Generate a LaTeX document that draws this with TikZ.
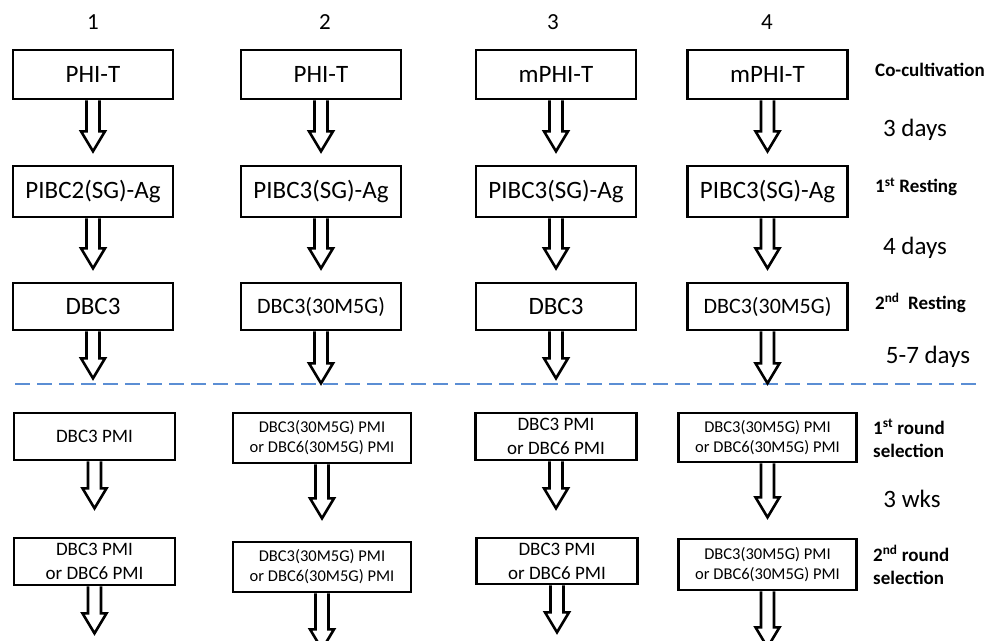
\documentclass[tikz,border=0pt]{standalone}
\usepackage{fontspec}
\setmainfont{Carlito}
\usetikzlibrary{calc}

\definecolor{dashblue}{RGB}{91,142,212}

% hollow down arrow below a box
\newcommand{\flowarrow}[2]{%
  \draw[arrowline] ($(#1.south)+(-6.5,0)$) -- ++(0,#2) -- ++(-5.5,0) -- ++(12,20) -- ++(12,-20) -- ++(-5.5,0) -- ++(0,-#2);}

\tikzset{
  box/.style={draw, line width=2.6pt, minimum width=160pt, minimum height=49pt, align=center, inner sep=0pt},
  widebox/.style={box, minimum width=178pt},
  arrowline/.style={draw, line width=2.6pt, line join=miter, fill=white},
  txtA/.style={font=\fontsize{25}{30}\selectfont},
  txtB/.style={font=\fontsize{22}{26}\selectfont},
  txtC/.style={font=\fontsize{19}{24}\selectfont},
  txtD/.style={font=\fontsize{16.5}{20}\selectfont},
  colnum/.style={font=\fontsize{23}{27}\selectfont},
  stage/.style={font=\bfseries\fontsize{19}{23}\selectfont, anchor=west, align=left, inner sep=0pt},
  period/.style={font=\fontsize{25}{30}\selectfont, inner sep=0pt}
}

\begin{document}
\begin{tikzpicture}[x=1pt, y=-1pt]
            \useasboundingbox (0,0) rectangle (987,640);

            %column numbers
            \node[colnum] (n1) at (93,22) {1};
            \node[colnum] (n2) at (325,22) {2};
            \node[colnum] (n3) at (553,22) {3};
            \node[colnum] (n4) at (767,22) {4};

            %co-cultivation
            \node[box,txtA] (a1) at (93,74.5) {PHI-T};
            \node[box,txtA] (a2) at (321,74.5) {PHI-T};
            \node[box,txtA] (a3) at (556,74.5) {mPHI-T};
            \node[box,txtA] (a4) at (767.5,74.5) {mPHI-T};

            %1st resting
            \node[box,txtA,minimum height=51pt] (b1) at (93,191.5) {PIBC2(SG)-Ag};
            \node[box,txtA,minimum height=51pt] (b2) at (321,191.5) {PIBC3(SG)-Ag};
            \node[box,txtA,minimum height=51pt] (b3) at (556,191.5) {PIBC3(SG)-Ag};
            \node[box,txtA,minimum height=51pt] (b4) at (767.5,191.5) {PIBC3(SG)-Ag};

            %2nd resting
            \node[box,txtA,minimum height=47pt] (c1) at (93,306.5) {DBC3};
            \node[box,txtB,minimum height=47pt] (c2) at (321,306.5) {DBC3(30M5G)};
            \node[box,txtA,minimum height=47pt] (c3) at (556,306.5) {DBC3};
            \node[box,txtB,minimum height=47pt] (c4) at (767.5,306.5) {DBC3(30M5G)};

            \draw[dashblue, line width=2.5pt, dash pattern=on 15pt off 7pt] (15,384) -- (978,384);

            %1st round selection
            \node[box,txtC,minimum width=161pt,minimum height=47pt] (d1) at (94.5,436.5) {DBC3 PMI};
            \node[widebox,txtD,minimum height=50pt] (d2) at (322,438) {DBC3(30M5G) PMI\\or DBC6(30M5G) PMI};
            \node[box,txtC,minimum width=161pt,minimum height=47pt] (d3) at (556,436.5) {DBC3 PMI\\or DBC6 PMI};
            \node[widebox,txtD,minimum height=49pt] (d4) at (767.5,437.5) {DBC3(30M5G) PMI\\or DBC6(30M5G) PMI};

            %2nd round selection
            \node[box,txtC,minimum width=161pt,minimum height=47pt] (e1) at (94.5,561.5) {DBC3 PMI\\or DBC6 PMI};
            \node[widebox,txtD,minimum height=50pt] (e2) at (322,567) {DBC3(30M5G) PMI\\or DBC6(30M5G) PMI};
            \node[box,txtC,minimum width=161pt,minimum height=46pt] (e3) at (557,561) {DBC3 PMI\\or DBC6 PMI};
            \node[widebox,txtD,minimum height=51pt] (e4) at (767.5,564.5) {DBC3(30M5G) PMI\\or DBC6(30M5G) PMI};

            %arrows
            \flowarrow{a1}{31} \flowarrow{a2}{31} \flowarrow{a3}{31} \flowarrow{a4}{31}
            \flowarrow{b1}{30} \flowarrow{b2}{30} \flowarrow{b3}{30} \flowarrow{b4}{30}
            \flowarrow{c1}{27} \flowarrow{c2}{32} \flowarrow{c3}{27} \flowarrow{c4}{32}
            \flowarrow{d1}{27} \flowarrow{d2}{34} \flowarrow{d3}{27} \flowarrow{d4}{34}
            \flowarrow{e1}{27} \flowarrow{e2}{36} \flowarrow{e3}{27} \flowarrow{e4}{36}

            %stages and times
            \node[stage] (cocult) at (875,70) {Co-cultivation};
            \node[period] (t1) at (915,130) {3 days};
            \node[stage] (rest1) at (875,187) {1\textsuperscript{st} Resting};
            \node[period] (t2) at (915,248) {4 days};
            \node[stage] (rest2) at (875,303) {2\textsuperscript{nd}\ \ Resting};
            \node[period] (t3) at (928,357) {5-7 days};
            \node[stage] (sel1) at (873,438.5) {1\textsuperscript{st} round\\selection};
            \node[period] (t4) at (912,499) {3 wks};
            \node[stage] (sel2) at (873,565) {2\textsuperscript{nd} round\\selection};

        \end{tikzpicture}
\end{document}
